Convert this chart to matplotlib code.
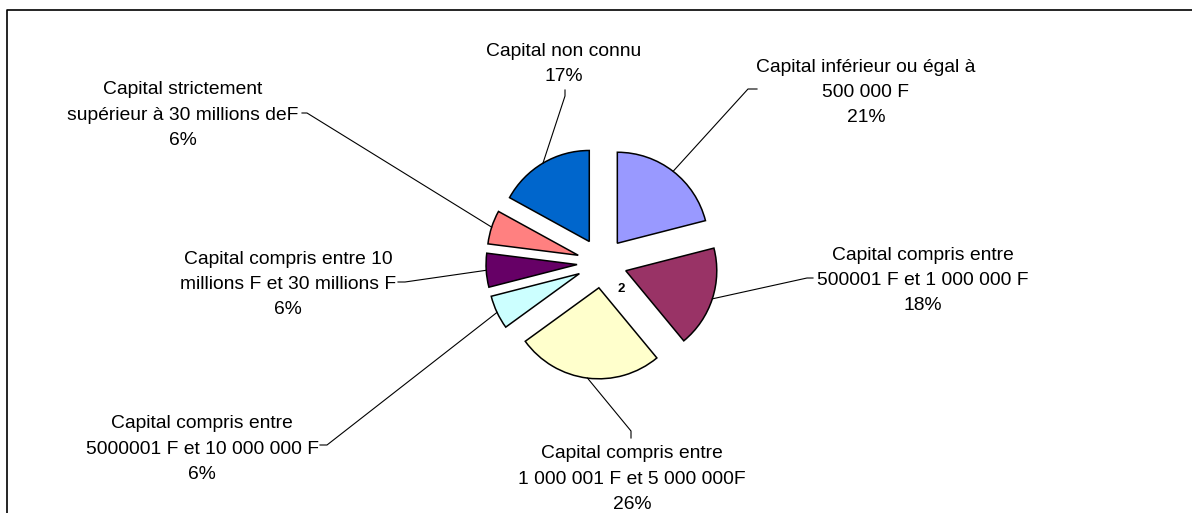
import numpy as np
import matplotlib.pyplot as plt

plt.rcParams['font.family'] = ['Liberation Sans', 'DejaVu Sans']

# data
categories = [
    ["Capital inférieur ou égal à", "500 000 F"],
    ["Capital compris entre", "500001 F et 1 000 000 F"],
    ["Capital compris entre", "1 000 001 F et 5 000 000F"],
    ["Capital compris entre", "5000001 F et 10 000 000 F"],
    ["Capital compris entre 10", "millions F et 30 millions F"],
    ["Capital strictement", "supérieur à 30 millions deF"],
    ["Capital non connu"],
]
values = [21, 18, 26, 6, 6, 6, 17]
colors = ["#9999FF", "#993366", "#FFFFCC", "#CCFFFF", "#660066", "#FF8080", "#0066CC"]

# layout (pixels): label centre x, first-line centre y, stub start, stub end
label_pos = [(866, 65), (923, 253), (632, 452), (202, 422), (288, 257), (183, 88), (564, 49)]
stubs = [((757, 89), (748, 89)), ((813, 278), (807, 278)), ((631, 438), (631, 431)),
         ((320, 445), (327, 445)), ((398, 282), (405, 282)), ((302, 113), (307, 113)),
         ((565, 90), (565, 96))]

W, H = 1192, 513
cx, cy, r = 602, 263, 91
expl = 25  # pie explode is in data units

fig = plt.figure(figsize=(W / 100, H / 100), dpi=100)
ax = fig.add_axes([0, 0, 1, 1])

ax.pie(values, colors=colors, startangle=-90, counterclock=True,
       center=(cx, cy), radius=r, explode=[expl] * len(values),
       wedgeprops=dict(edgecolor='black', linewidth=1.1))
ax.set_xlim(0, W)
ax.set_ylim(H, 0)
ax.set_aspect('equal')
ax.axis('off')

total = sum(values)
cum = 0
for i, v in enumerate(values):
    mid = np.deg2rad(-90 + 360 * (cum + v / 2) / total)
    cum += v
    px = cx + (r + expl) * np.cos(mid)
    py = cy + (r + expl) * np.sin(mid)
    (x0, y0), (x1, y1) = stubs[i]
    ax.plot([x0, x1, px], [y0, y1, py], color='black', lw=0.8)

    lines = categories[i] + ["%d%%" % round(100 * v / total)]
    lx, ly = label_pos[i]
    for k, t in enumerate(lines):
        ax.text(lx, ly + 25.3 * k + 6.5, t, ha='center', va='baseline',
                fontsize=13.9, color='black')

ax.text(621, 289, "2", ha='center', va='center', fontsize=9.5, fontweight='bold')

# chart frame
ax.plot([7, 7, W + 5], [H + 5, 10, 10], color='black', lw=1.2, clip_on=False)

fig.savefig("out.png", dpi=100)
